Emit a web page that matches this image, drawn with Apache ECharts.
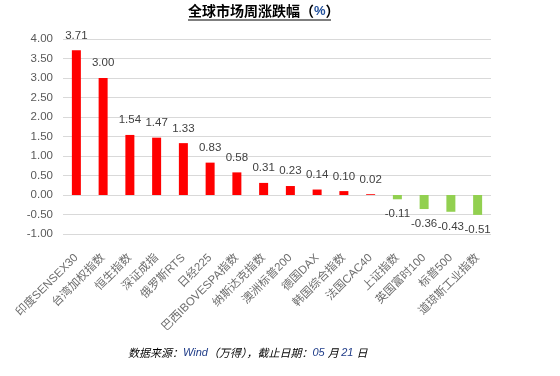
<!DOCTYPE html>
<html><head><meta charset="utf-8">
<script src="https://cdn.jsdelivr.net/npm/echarts@6/dist/echarts.min.js"></script>
<style>html,body{margin:0;padding:0;background:#fff}#c{width:560px;height:376px}</style>
</head><body><div id="c"></div>
<script>
const categories = ['印度SENSEX30','台湾加权指数','恒生指数','深证成指','俄罗斯RTS','日经225','巴西IBOVESPA指数','纳斯达克指数','澳洲标普200','德国DAX','韩国综合指数','法国CAC40','上证指数','英国富时100','标普500','道琼斯工业指数'];
const values = [3.71, 3.00, 1.54, 1.47, 1.33, 0.83, 0.58, 0.31, 0.23, 0.14, 0.10, 0.02, -0.11, -0.36, -0.43, -0.51];
const yTicks = [-1.00, -0.50, 0.00, 0.50, 1.00, 1.50, 2.00, 2.50, 3.00, 3.50, 4.00];

const FONT = "'Liberation Sans Narrow','Liberation Sans','Noto Sans CJK SC',sans-serif";
const chart = echarts.init(document.getElementById('c'));
chart.setOption({
  animation: false,
  backgroundColor: '#fff',
  grid: {left: 63, right: 69, top: 39, bottom: 142, containLabel: false},
  xAxis: {
    type: 'category', data: categories,
    axisLine: {show: false, onZero: false}, axisTick: {show: false},
    axisLabel: {rotate: 45, interval: 0, margin: 22, color: '#6E6E6E', fontSize: 11.5, fontFamily: FONT}
  },
  yAxis: {
    type: 'value', min: yTicks[0], max: yTicks[yTicks.length-1], interval: 0.5,
    axisLine: {show: false}, axisTick: {show: false},
    splitLine: {lineStyle: {color: '#D9D9D9', width: 1}},
    axisLabel: {margin: 10, color: '#595959', fontSize: 11.5, fontFamily: FONT, formatter: v => v.toFixed(2)}
  },
  series: [{
    type: 'bar', barWidth: 9,
    data: values.map(v => ({
      value: v,
      itemStyle: {color: v >= 0 ? '#FF0000' : '#92D050'},
      label: {show: true, position: v >= 0 ? 'top' : 'bottom', distance: 9, color: '#404040', fontSize: 11.5, fontFamily: FONT, formatter: p => p.value.toFixed(2)}
    }))
  }],
  graphic: [
    {type: 'text', left: 188, top: 4, style: {
      text: '{a|全球市场周涨跌幅（}{b|%}{a|）}',
      rich: {a: {fontSize: 14, fontWeight: 'bold', fill: '#000', fontFamily: "'Noto Sans CJK SC',sans-serif"},
             b: {fontSize: 13, fontWeight: 'bold', fill: '#1F4E9A', fontFamily: "'Liberation Sans',sans-serif"}}
    }},
    {type: 'line', shape: {x1: 188, y1: 20, x2: 331, y2: 20}, style: {stroke: '#000', lineWidth: 1.2}},
    {type: 'text', left: 128, top: 347, style: {
      text: '{a|数据来源：}{b|Wind}{a|（万得），截止日期：}{b|05 }{a|月 }{b|21 }{a|日}',
      rich: {a: {fontSize: 11, fontStyle: 'italic', fill: '#000', fontFamily: "'Noto Sans CJK SC',sans-serif"},
             b: {fontSize: 11, fontStyle: 'italic', fill: '#1F3C88', fontFamily: "'Liberation Sans',sans-serif"}}
    }}
  ]
});
</script></body></html>
